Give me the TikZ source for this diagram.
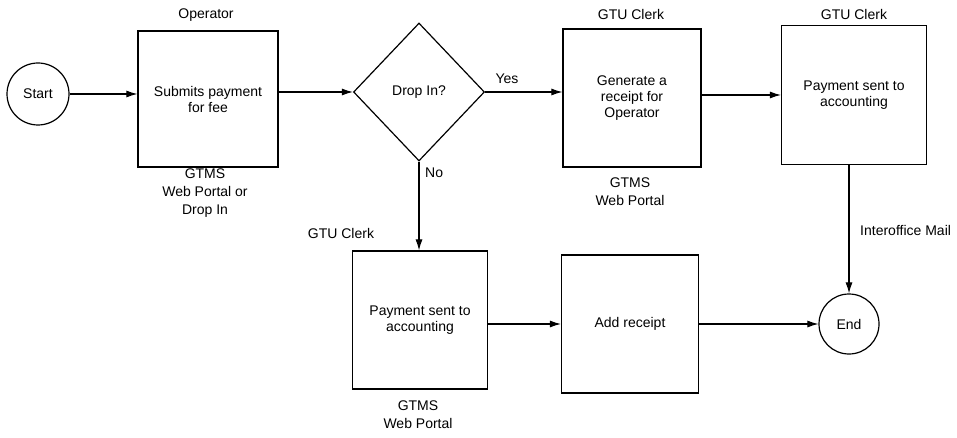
\documentclass[tikz,border=0pt]{standalone}
\usepackage{fontspec}
\setmainfont{Liberation Sans}
\usetikzlibrary{shapes.geometric,arrows.meta}
\begin{document}
\begin{tikzpicture}[x=1pt,y=-1pt,
  every node/.style={font=\fontsize{14}{16}\selectfont},
  proc/.style={draw,line width=1.2pt,inner sep=0pt,align=center,minimum width=138pt,minimum height=138pt},
  term/.style={draw,circle,line width=1.2pt,inner sep=0pt,minimum size=62pt},
  dec/.style={draw,diamond,line width=1.2pt,inner sep=0pt,minimum width=131pt,minimum height=138pt},
  lbl/.style={inner sep=0pt,align=center,font=\fontsize{14}{18}\selectfont},
  flow/.style={line width=1.1pt,-{Latex[length=11pt,width=7pt]}}]
\useasboundingbox[fill=white] (0,0) rectangle (957,438);
% nodes
\node[term] (start) at (38,94) {Start};
\node[proc,minimum width=140pt,minimum height=136pt] (box1) at (208,99) {Submits payment\\for fee};
\node[lbl] (op) at (206,15) {Operator};
\node[lbl] (gtms1) at (205,193) {GTMS\\Web Portal or\\Drop In};
\node[dec] (dia) at (419,92) {Drop In?};
\node[lbl] (yes) at (507,79) {Yes};
\node[lbl,anchor=west] (no) at (425,173) {No};
\node[proc] (box2) at (632,98) {Generate a\\receipt for\\Operator};
\node[lbl] (clerk2) at (631,15) {GTU Clerk};
\node[lbl] (gtms2) at (630,192) {GTMS\\Web Portal};
\node[proc,minimum width=145pt,minimum height=139pt] (box3) at (854,95) {Payment sent to\\accounting};
\node[lbl] (clerk3) at (854,15) {GTU Clerk};
\node[lbl,anchor=west] (mail) at (860,230) {Interoffice Mail};
\node[proc,minimum width=135pt] (box4) at (420,320) {Payment sent to\\accounting};
\node[lbl] (clerk4) at (341,233) {GTU Clerk};
\node[lbl] (gtms4) at (418,415) {GTMS\\Web Portal};
\node[proc,minimum width=137pt] (box5) at (630,324) {Add receipt};
\node[term,minimum size=60pt] (end) at (849,324) {End};
% connectors
\draw[flow] (start.east) -- (start.east -| box1.west);
\draw[flow] (dia.west -| box1.east) -- (dia.west);
\draw[flow] (dia.east) -- (dia.east -| box2.west);
\draw[flow] (box3.west -| box2.east) -- (box3.west);
\draw[flow] (dia.south) -- (dia.south |- box4.north);
\draw[flow] (box5.west -| box4.east) -- (box5.west);
\draw[flow] (box5.east) -- (end.west);
\draw[flow] (end.north |- box3.south) -- (end.north);
\end{tikzpicture}
\end{document}
